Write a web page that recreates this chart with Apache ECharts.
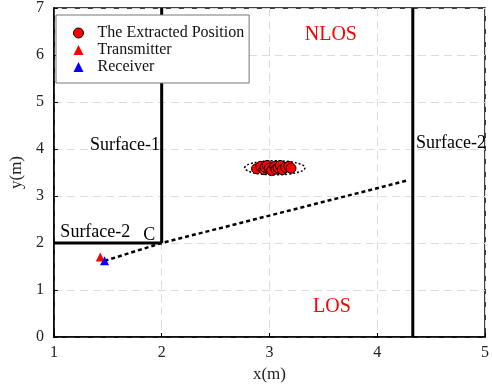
<!DOCTYPE html>
<html>
<head>
<meta charset="utf-8">
<script src="https://cdn.jsdelivr.net/npm/echarts@6/dist/echarts.min.js"></script>
<style>html,body{margin:0;padding:0;background:#fff}#c{width:492px;height:390px}</style>
</head>
<body>
<div id="c"></div>
<script>
// Estimated positions (x, y) in metres
const extractedPositions = [
  [2.88, 3.58], [2.92, 3.63], [2.95, 3.56], [2.96, 3.61], [2.98, 3.65],
  [3.00, 3.59], [3.02, 3.54], [3.05, 3.63], [3.06, 3.57], [3.08, 3.60],
  [3.10, 3.65], [3.12, 3.56], [3.15, 3.61], [3.18, 3.63], [3.20, 3.59]
];
const transmitter = [[1.43, 1.70]];
const receiver = [[1.47, 1.62]];
// Confidence ellipse: centre x, centre y, semi-axis x, semi-axis y
const ellipse = [[3.05, 3.60, 0.28, 0.15]];
// Walls
const surface1 = [[2, 2], [2, 7]];
const surface2Left = [[1, 2], [2, 2]];
const surface2Right = [[4.33, 0], [4.33, 7]];
// Reflected path: receiver -> corner C -> beyond
const pathPoints = [[1.47, 1.62], [2, 2], [4.28, 3.33]];
// Region / surface annotations: text, x, y, colour, font size, alignment
const annotationText = ['NLOS', 'LOS', 'Surface-1', 'Surface-2', 'C', 'Surface-2'];
const annotationPos = [[3.57, 6.43], [3.58, 0.64], [1.985, 4.09], [1.06, 2.23], [1.83, 2.17], [4.36, 4.13]];
const annotationColor = ['#ff0000', '#ff0000', '#000', '#000', '#000', '#000'];
const annotationSize = [20, 20, 18, 18, 18, 18];
const annotationAlign = ['center', 'center', 'right', 'left', 'left', 'left'];
const xTicks = [1, 2, 3, 4, 5];
const yTicks = [0, 1, 2, 3, 4, 5, 6, 7];

const FONT = '"Liberation Serif", "Times New Roman", serif';
const chart = echarts.init(document.getElementById('c'), null, { renderer: 'canvas' });

function wall(data) {
  return {
    type: 'line', data: data, symbol: 'none', silent: true,
    lineStyle: { color: '#000', width: 3 }, z: 3
  };
}

chart.setOption({
  animation: false,
  backgroundColor: '#fff',
  grid: {
    left: 50, right: 5, top: 8, bottom: 53,
    show: true, borderColor: '#000', borderWidth: 1.5, backgroundColor: 'transparent'
  },
  xAxis: {
    type: 'value', min: xTicks[0], max: xTicks[xTicks.length - 1], interval: 1,
    name: 'x(m)', nameLocation: 'middle', nameGap: 28,
    nameTextStyle: { fontFamily: FONT, fontSize: 17, color: '#222' },
    axisLine: { lineStyle: { color: '#000', width: 1.5 } },
    axisTick: { inside: true, length: 4, lineStyle: { color: '#000' } },
    axisLabel: { fontFamily: FONT, fontSize: 16, color: '#222', margin: 8 },
    splitLine: { show: true, lineStyle: { color: '#dcdcdc', type: [8, 5], width: 1 } }
  },
  yAxis: {
    type: 'value', min: yTicks[0], max: yTicks[yTicks.length - 1], interval: 1,
    name: 'y(m)', nameLocation: 'middle', nameGap: 24, nameRotate: 90,
    nameTextStyle: { fontFamily: FONT, fontSize: 17, color: '#222' },
    axisLine: { lineStyle: { color: '#000', width: 1.5 } },
    axisTick: { inside: true, length: 4, lineStyle: { color: '#000' } },
    axisLabel: { fontFamily: FONT, fontSize: 16, color: '#222', margin: 10 },
    splitLine: { show: true, lineStyle: { color: '#dcdcdc', type: [8, 5], width: 1 } }
  },
  legend: {
    orient: 'vertical', left: 56, top: 15,
    padding: [10, 5, 8, 17],
    itemGap: 1, itemWidth: 10, itemHeight: 10,
    backgroundColor: '#fff', borderColor: '#777', borderWidth: 1,
    textStyle: { fontFamily: FONT, fontSize: 16, color: '#111', padding: [0, 0, 0, 9] },
    data: [
      { name: 'The Extracted Position', icon: 'circle', itemStyle: { color: '#ff0000', borderColor: '#000', borderWidth: 1 } },
      { name: 'Transmitter', icon: 'triangle' },
      { name: 'Receiver', icon: 'triangle' }
    ]
  },
  series: [
    wall(surface1),
    wall(surface2Left),
    wall(surface2Right),
    {
      type: 'line', data: pathPoints, symbol: 'none', silent: true, z: 4,
      lineStyle: { color: '#000', width: 2.5, type: [4, 3] }
    },
    {
      type: 'custom', silent: true, z: 5,
      data: ellipse,
      renderItem: function (params, api) {
        const c = api.coord([api.value(0), api.value(1)]);
        const s = api.size([api.value(2), api.value(3)]);
        return {
          type: 'ellipse',
          shape: { cx: c[0], cy: c[1], rx: s[0], ry: s[1] },
          style: { fill: null, stroke: '#000', lineWidth: 1.5, lineDash: [2, 2] }
        };
      }
    },
    {
      name: 'The Extracted Position', type: 'scatter', data: extractedPositions,
      symbol: 'circle', symbolSize: 10, z: 6,
      itemStyle: { color: '#ff0000', borderColor: '#000', borderWidth: 1, opacity: 1 }
    },
    {
      name: 'Transmitter', type: 'scatter', data: transmitter,
      symbol: 'triangle', symbolSize: 9, z: 6,
      itemStyle: { color: '#ff0000', opacity: 1 }
    },
    {
      name: 'Receiver', type: 'scatter', data: receiver,
      symbol: 'triangle', symbolSize: 9, z: 7,
      itemStyle: { color: '#0000ff', opacity: 1 }
    },
    {
      type: 'custom', silent: true, z: 8,
      data: annotationPos.map((p, i) => [p[0], p[1], i]),
      renderItem: function (params, api) {
        const i = api.value(2);
        const c = api.coord([api.value(0), api.value(1)]);
        return {
          type: 'text',
          x: c[0], y: c[1],
          style: {
            text: annotationText[i], fill: annotationColor[i],
            font: annotationSize[i] + 'px ' + FONT,
            align: annotationAlign[i], verticalAlign: 'middle'
          }
        };
      }
    }
  ]
});
</script>
</body>
</html>
